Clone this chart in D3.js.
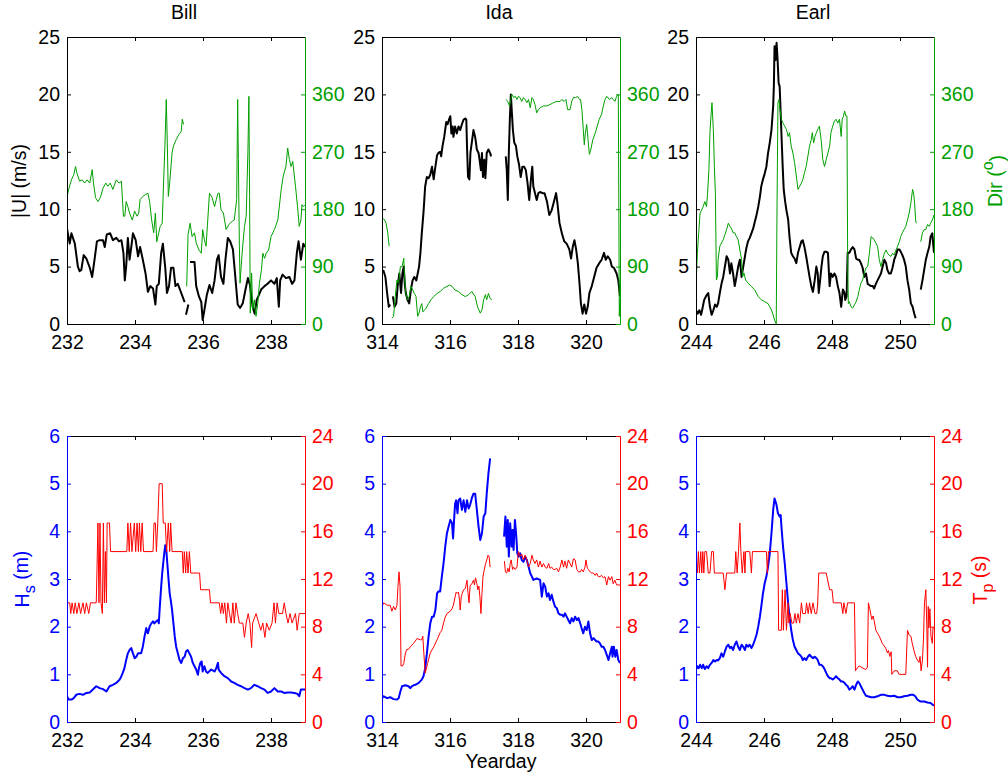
<!DOCTYPE html>
<html><head><meta charset="utf-8">
<script src="https://cdn.jsdelivr.net/npm/d3@7"></script>
<style>
body{margin:0;background:#fff}
svg{display:block}
text{font-family:"Liberation Sans",Arial,Helvetica,sans-serif}
</style>
</head><body>
<svg id="c" width="1008" height="779"></svg>
<script>
// ---------------- DATA ----------------
const stormNames = ["Bill", "Ida", "Earl"];
const dayRanges = [[232, 239], [314, 321], [244, 251]];
const dayTicks = [[232, 234, 236, 238], [314, 316, 318, 320], [244, 246, 248, 250]];
const speedTicks = [0, 5, 10, 15, 20, 25];
const dirTicks = [0, 90, 180, 270, 360];
const hsTicks = [0, 1, 2, 3, 4, 5, 6];
const tpTicks = [0, 4, 8, 12, 16, 20, 24];

// wind speed |U| (m/s) [yearday, value]; null = gap
const billU = [[232.00,8.3],[232.08,7.0],[232.13,7.9],[232.23,7.0],[232.32,5.0],[232.37,4.6],[232.42,4.7],[232.49,6.0],[232.57,5.7],[232.67,4.9],[232.74,4.1],[232.81,5.6],[232.88,7.2],[232.96,7.3],[233.06,7.3],[233.11,6.7],[233.17,7.8],[233.27,7.9],[233.35,7.3],[233.45,7.5],[233.53,7.2],[233.60,7.3],[233.66,6.2],[233.70,3.8],[233.74,5.0],[233.79,7.5],[233.84,5.6],[233.89,6.7],[233.94,7.9],[234.02,7.3],[234.09,5.9],[234.15,6.7],[234.23,5.6],[234.31,4.4],[234.38,2.8],[234.45,3.3],[234.53,3.1],[234.60,1.7],[234.64,3.3],[234.70,3.5],[234.77,6.2],[234.82,7.0],[234.89,4.9],[234.94,2.7],[235.00,3.3],[235.06,4.9],[235.13,4.9],[235.19,3.3],[235.26,3.5],[235.36,2.7],[235.46,1.9],[235.48,null],[235.50,0.8],[235.57,1.7],[235.59,null],[235.62,5.4],[235.75,5.4],[235.80,3.3],[235.88,2.4],[235.95,1.9],[235.99,0.35],[236.04,1.2],[236.11,2.5],[236.19,3.4],[236.27,2.7],[236.34,3.8],[236.41,5.6],[236.46,6.0],[236.53,4.1],[236.60,3.5],[236.66,5.6],[236.73,7.5],[236.80,7.2],[236.88,6.5],[236.95,4.1],[237.02,1.7],[237.09,1.4],[237.17,1.8],[237.25,3.0],[237.32,4.0],[237.38,3.4],[237.46,1.5],[237.52,0.9],[237.58,2.1],[237.64,2.5],[237.71,3.0],[237.81,3.3],[237.90,3.5],[238.00,3.8],[238.10,3.5],[238.17,4.0],[238.23,1.5],[238.27,3.8],[238.34,4.3],[238.44,4.0],[238.54,4.1],[238.62,3.5],[238.69,3.8],[238.76,6.2],[238.81,7.2],[238.88,5.6],[238.95,7.0],[239.00,6.7]];
const idaU = [[314.00,4.7],[314.05,4.6],[314.10,4.1],[314.15,2.7],[314.20,1.5],[314.24,1.7],[314.28,null],[314.32,2.4],[314.37,1.5],[314.42,1.8],[314.46,3.3],[314.51,4.4],[314.56,2.7],[314.60,4.4],[314.64,5.0],[314.67,3.5],[314.70,2.7],[314.75,2.1],[314.80,1.8],[314.85,3.0],[314.90,3.8],[314.95,4.1],[315.01,3.8],[315.05,4.4],[315.09,5.0],[315.13,6.2],[315.17,7.9],[315.22,9.7],[315.27,12.0],[315.32,12.8],[315.37,12.7],[315.42,13.0],[315.47,13.7],[315.52,12.6],[315.57,13.7],[315.62,14.7],[315.66,14.9],[315.71,15.0],[315.74,14.6],[315.78,15.5],[315.83,16.3],[315.89,17.6],[315.93,17.4],[315.97,17.8],[316.01,18.1],[316.04,16.6],[316.08,17.2],[316.10,16.3],[316.15,17.2],[316.20,16.6],[316.25,17.2],[316.30,16.9],[316.35,17.4],[316.40,17.8],[316.45,17.9],[316.48,17.8],[316.50,15.5],[316.53,12.8],[316.57,12.6],[316.60,14.9],[316.65,16.0],[316.69,16.9],[316.74,16.3],[316.79,15.2],[316.84,14.9],[316.87,14.3],[316.91,13.4],[316.94,14.9],[316.97,12.8],[317.01,14.3],[317.04,12.7],[317.06,13.7],[317.08,14.9],[317.13,15.2],[317.18,14.9],[317.21,14.6],[317.40,null],[317.64,14.6],[317.67,13.4],[317.70,10.8],[317.73,14.9],[317.76,17.8],[317.79,20.0],[317.82,18.4],[317.85,16.9],[317.89,15.8],[317.94,15.5],[317.98,14.6],[318.03,13.9],[318.08,12.8],[318.13,13.7],[318.18,13.7],[318.23,13.4],[318.28,12.3],[318.33,10.8],[318.38,12.6],[318.42,13.7],[318.45,12.0],[318.50,11.4],[318.55,10.8],[318.60,11.4],[318.65,11.5],[318.72,11.4],[318.78,11.4],[318.85,10.7],[318.92,9.5],[318.99,9.9],[319.06,10.7],[319.12,11.4],[319.16,10.5],[319.22,8.8],[319.29,7.9],[319.36,7.2],[319.43,7.0],[319.51,6.5],[319.56,5.7],[319.61,6.7],[319.66,7.3],[319.71,6.5],[319.76,5.3],[319.81,3.5],[319.85,1.8],[319.90,0.9],[319.95,1.7],[320.00,0.9],[320.05,1.5],[320.10,2.7],[320.17,3.3],[320.24,4.1],[320.31,4.9],[320.39,5.3],[320.46,5.6],[320.53,6.2],[320.58,5.6],[320.64,5.9],[320.71,5.6],[320.76,5.0],[320.82,4.9],[320.90,4.4],[320.95,3.8],[321.00,2.4]];
const earlU = [[244.00,1.2],[244.05,0.9],[244.10,1.2],[244.15,0.8],[244.20,1.5],[244.24,2.1],[244.31,2.5],[244.36,2.7],[244.41,1.5],[244.46,0.8],[244.51,1.2],[244.56,1.7],[244.61,1.5],[244.65,1.8],[244.70,2.7],[244.75,3.5],[244.80,4.1],[244.85,5.0],[244.90,5.9],[244.95,5.6],[245.00,4.4],[245.04,5.3],[245.09,4.4],[245.14,3.3],[245.19,4.1],[245.24,5.0],[245.29,5.6],[245.34,4.1],[245.39,5.0],[245.44,5.9],[245.48,6.6],[245.53,7.2],[245.58,7.5],[245.63,7.9],[245.68,8.3],[245.73,8.9],[245.78,9.5],[245.83,10.2],[245.88,11.1],[245.92,12.0],[245.97,12.6],[246.02,13.1],[246.07,13.7],[246.12,14.9],[246.17,15.8],[246.22,16.9],[246.27,19.0],[246.29,20.7],[246.31,24.2],[246.34,23.0],[246.37,24.5],[246.40,23.0],[246.43,21.0],[246.46,20.7],[246.49,18.4],[246.52,16.0],[246.55,13.7],[246.58,11.7],[246.62,10.7],[246.66,9.9],[246.71,9.1],[246.75,7.6],[246.80,6.2],[246.85,5.9],[246.90,5.7],[246.95,5.3],[247.00,6.2],[247.05,6.7],[247.10,7.2],[247.14,7.3],[247.19,6.7],[247.24,5.9],[247.29,5.0],[247.34,4.1],[247.39,3.3],[247.44,2.8],[247.49,3.8],[247.54,5.0],[247.58,4.4],[247.61,2.7],[247.65,3.8],[247.69,5.0],[247.73,5.9],[247.78,6.3],[247.83,6.3],[247.88,6.2],[247.93,3.3],[247.97,4.4],[248.02,4.1],[248.07,4.4],[248.12,4.1],[248.17,3.3],[248.22,2.7],[248.27,1.5],[248.32,3.0],[248.37,2.7],[248.39,2.1],[248.43,2.4],[248.46,6.2],[248.51,6.2],[248.56,6.5],[248.61,6.7],[248.66,6.5],[248.71,5.7],[248.76,5.6],[248.80,5.6],[248.85,5.3],[248.90,4.9],[248.95,4.1],[249.00,4.4],[249.05,3.5],[249.10,3.4],[249.15,3.3],[249.20,3.3],[249.24,3.1],[249.29,3.5],[249.34,3.8],[249.39,4.1],[249.44,4.4],[249.49,5.0],[249.54,5.6],[249.59,5.3],[249.63,4.7],[249.68,4.4],[249.73,4.4],[249.78,4.9],[249.83,5.6],[249.88,6.0],[249.93,6.5],[249.98,6.5],[250.02,6.3],[250.07,6.0],[250.12,5.6],[250.17,5.0],[250.22,3.8],[250.27,3.0],[250.32,1.8],[250.37,1.5],[250.42,0.9],[250.46,0.5],[250.53,null],[250.61,3.0],[250.66,3.8],[250.71,4.7],[250.76,5.6],[250.81,6.2],[250.86,6.7],[250.90,7.6],[250.95,7.9],[251.00,6.2]];

// wind direction (deg)
const billDir = [[232.00,200],[232.06,213],[232.13,226],[232.20,234],[232.25,247],[232.29,237],[232.37,224],[232.45,226],[232.52,221],[232.59,226],[232.67,221],[232.74,242],[232.78,221],[232.84,198],[232.91,192],[232.98,198],[233.06,213],[233.14,221],[233.20,216],[233.27,221],[233.35,211],[233.45,226],[233.53,221],[233.60,224],[233.66,169],[233.70,169],[233.74,192],[233.79,184],[233.84,174],[233.92,163],[233.99,177],[234.06,169],[234.11,174],[234.15,195],[234.23,200],[234.31,203],[234.38,205],[234.43,192],[234.49,163],[234.55,143],[234.60,174],[234.64,129],[234.70,143],[234.74,153],[234.80,158],[234.84,221],[234.88,279],[234.92,352],[234.95,284],[234.98,200],[235.02,221],[235.09,268],[235.13,279],[235.21,289],[235.29,297],[235.36,302],[235.39,321],[235.43,313],[235.47,null],[235.52,59],[235.56,140],[235.62,158],[235.68,137],[235.75,143],[235.80,127],[235.88,116],[235.95,111],[235.99,148],[236.04,132],[236.09,122],[236.14,163],[236.19,205],[236.27,198],[236.34,184],[236.39,195],[236.44,205],[236.48,205],[236.53,179],[236.60,174],[236.68,148],[236.76,156],[236.86,161],[236.92,163],[236.99,195],[237.02,352],[237.04,258],[237.07,122],[237.09,64],[237.15,111],[237.22,153],[237.27,169],[237.32,268],[237.35,357],[237.37,200],[237.39,17],[237.43,80],[237.46,22],[237.51,38],[237.56,12],[237.61,32],[237.66,64],[237.72,85],[237.76,111],[237.81,103],[237.86,111],[237.93,116],[238.00,137],[238.10,148],[238.20,163],[238.30,211],[238.36,232],[238.44,247],[238.49,276],[238.54,258],[238.59,247],[238.64,255],[238.72,216],[238.78,184],[238.83,153],[238.88,163],[238.91,187],[238.95,184],[239.00,187]];
const idaDir = [[314.00,166],[314.07,164],[314.12,158],[314.17,143],[314.21,122],[314.25,null],[314.29,9],[314.34,12],[314.39,43],[314.44,69],[314.49,64],[314.54,90],[314.59,90],[314.64,103],[314.67,69],[314.70,48],[314.75,38],[314.80,43],[314.85,59],[314.91,53],[314.95,48],[315.00,43],[315.05,12],[315.09,17],[315.13,27],[315.17,32],[315.20,19],[315.25,22],[315.30,25],[315.37,32],[315.44,38],[315.52,43],[315.62,48],[315.71,51],[315.81,56],[315.91,59],[315.99,61],[316.06,59],[316.15,53],[316.25,51],[316.35,46],[316.45,43],[316.55,46],[316.64,51],[316.74,43],[316.81,27],[316.89,17],[316.94,22],[316.99,38],[317.04,46],[317.08,38],[317.13,48],[317.18,40],[317.23,38],[317.40,null],[317.64,352],[317.70,349],[317.75,342],[317.79,352],[317.82,360],[317.87,355],[317.92,357],[317.97,352],[318.01,357],[318.06,355],[318.11,349],[318.16,355],[318.21,352],[318.26,347],[318.31,352],[318.36,339],[318.41,355],[318.45,352],[318.50,344],[318.55,331],[318.60,336],[318.65,339],[318.75,342],[318.85,342],[318.94,344],[319.04,347],[319.14,349],[319.24,349],[319.29,352],[319.36,349],[319.41,352],[319.46,336],[319.53,336],[319.58,349],[319.63,355],[319.70,355],[319.75,357],[319.81,352],[319.84,352],[319.88,336],[319.92,305],[319.95,281],[319.98,299],[320.02,313],[320.06,289],[320.10,266],[320.14,273],[320.20,289],[320.27,299],[320.33,310],[320.39,321],[320.46,329],[320.51,342],[320.56,352],[320.61,357],[320.69,352],[320.76,355],[320.80,352],[320.85,349],[320.90,357],[320.95,360],[320.98,12],[321.00,40]];
const earlDir = [[244.00,59],[244.04,111],[244.08,143],[244.12,174],[244.17,179],[244.21,184],[244.26,192],[244.31,184],[244.34,205],[244.38,242],[244.41,300],[244.44,326],[244.47,347],[244.51,305],[244.54,247],[244.57,205],[244.60,69],[244.63,74],[244.65,101],[244.70,122],[244.75,127],[244.80,132],[244.85,140],[244.90,148],[244.95,158],[245.00,153],[245.04,150],[245.09,143],[245.14,143],[245.19,137],[245.24,132],[245.29,116],[245.34,101],[245.37,74],[245.41,80],[245.46,69],[245.53,64],[245.63,59],[245.73,53],[245.83,43],[245.92,38],[246.02,35],[246.12,32],[246.17,27],[246.22,22],[246.27,14],[246.31,6],[246.36,0],[246.38,163],[246.41,347],[246.44,352],[246.47,336],[246.51,321],[246.56,315],[246.61,310],[246.66,305],[246.71,294],[246.75,300],[246.80,279],[246.85,268],[246.90,253],[246.95,232],[247.00,211],[247.05,216],[247.10,221],[247.14,226],[247.19,237],[247.24,247],[247.29,263],[247.34,279],[247.39,289],[247.42,300],[247.46,284],[247.50,294],[247.54,300],[247.58,305],[247.63,310],[247.68,289],[247.73,258],[247.78,247],[247.83,258],[247.88,268],[247.93,279],[247.97,300],[248.02,310],[248.07,318],[248.12,321],[248.17,315],[248.22,321],[248.27,294],[248.30,321],[248.34,326],[248.37,334],[248.41,326],[248.44,326],[248.46,111],[248.48,32],[248.51,35],[248.56,27],[248.61,25],[248.66,30],[248.71,35],[248.76,43],[248.80,53],[248.85,64],[248.90,69],[248.95,80],[249.00,88],[249.05,90],[249.10,111],[249.15,137],[249.20,135],[249.24,132],[249.29,127],[249.34,122],[249.39,101],[249.44,90],[249.49,101],[249.54,111],[249.59,116],[249.63,111],[249.68,108],[249.73,106],[249.78,111],[249.83,108],[249.88,116],[249.93,122],[249.98,129],[250.02,137],[250.07,143],[250.12,148],[250.17,153],[250.22,163],[250.27,174],[250.32,190],[250.37,211],[250.40,205],[250.43,190],[250.46,163],[250.48,158],[250.55,null],[250.61,129],[250.66,143],[250.71,148],[250.76,148],[250.81,156],[250.86,153],[250.90,158],[250.95,163],[251.00,171]];

// significant wave height Hs (m)
const billHs = [[232.00,0.54],[232.05,0.47],[232.13,0.47],[232.20,0.50],[232.27,0.57],[232.37,0.59],[232.47,0.57],[232.57,0.61],[232.67,0.62],[232.76,0.68],[232.86,0.75],[232.96,0.71],[233.06,0.69],[233.16,0.64],[233.25,0.75],[233.35,0.78],[233.45,0.82],[233.55,0.89],[233.60,0.96],[233.64,1.03],[233.69,1.13],[233.74,1.30],[233.79,1.44],[233.84,1.51],[233.89,1.55],[233.94,1.44],[233.99,1.34],[234.04,1.37],[234.09,1.44],[234.18,1.44],[234.23,1.58],[234.28,1.79],[234.33,1.97],[234.38,1.86],[234.43,2.00],[234.48,2.07],[234.53,2.11],[234.57,2.07],[234.62,2.11],[234.67,2.14],[234.70,2.07],[234.73,2.42],[234.77,2.84],[234.80,3.12],[234.83,3.33],[234.86,3.54],[234.89,3.71],[234.92,3.61],[234.95,3.33],[234.98,3.05],[235.02,2.70],[235.05,2.56],[235.09,2.35],[235.13,2.07],[235.17,1.79],[235.21,1.58],[235.26,1.44],[235.31,1.30],[235.36,1.24],[235.41,1.34],[235.46,1.37],[235.50,1.48],[235.55,1.51],[235.60,1.44],[235.65,1.37],[235.70,1.24],[235.75,1.17],[235.80,1.10],[235.85,0.99],[235.88,1.13],[235.92,1.24],[235.96,1.27],[235.99,1.06],[236.04,1.17],[236.09,1.06],[236.14,1.03],[236.24,1.10],[236.34,1.06],[236.39,1.13],[236.44,1.24],[236.46,1.10],[236.53,1.03],[236.63,0.96],[236.73,0.92],[236.83,0.85],[236.92,0.82],[237.02,0.78],[237.12,0.75],[237.22,0.71],[237.32,0.68],[237.41,0.71],[237.51,0.78],[237.61,0.75],[237.71,0.71],[237.81,0.68],[237.90,0.61],[238.00,0.64],[238.10,0.71],[238.20,0.64],[238.30,0.64],[238.39,0.61],[238.49,0.62],[238.59,0.62],[238.69,0.61],[238.78,0.59],[238.83,0.54],[238.88,0.68],[239.00,0.68]];
const idaHs = [[314.00,0.50],[314.05,0.54],[314.15,0.50],[314.24,0.52],[314.34,0.48],[314.44,0.47],[314.49,0.50],[314.54,0.64],[314.59,0.75],[314.69,0.77],[314.78,0.75],[314.83,0.71],[314.88,0.75],[314.93,0.77],[314.98,0.78],[315.08,0.82],[315.17,0.89],[315.22,0.96],[315.27,1.13],[315.32,1.44],[315.37,1.79],[315.42,2.07],[315.47,2.21],[315.52,2.21],[315.57,2.35],[315.62,2.70],[315.66,2.74],[315.71,2.74],[315.76,3.05],[315.81,3.33],[315.86,3.68],[315.91,3.96],[315.96,4.10],[316.01,4.24],[316.06,4.17],[316.09,3.85],[316.12,4.24],[316.15,4.58],[316.18,4.65],[316.22,4.38],[316.25,4.65],[316.30,4.69],[316.35,4.45],[316.40,4.65],[316.45,4.41],[316.50,4.65],[316.55,4.48],[316.59,4.55],[316.64,4.69],[316.69,4.79],[316.74,4.79],[316.79,4.45],[316.84,4.10],[316.89,3.82],[316.94,3.96],[316.99,4.31],[317.04,4.38],[317.08,4.79],[317.13,5.21],[317.18,5.53],[317.40,null],[317.59,3.89],[317.63,4.31],[317.67,3.68],[317.70,4.24],[317.73,3.47],[317.77,4.17],[317.81,3.68],[317.84,4.03],[317.87,3.61],[317.91,4.24],[317.95,3.89],[317.98,3.54],[318.02,3.47],[318.06,3.54],[318.11,3.40],[318.16,3.36],[318.21,3.47],[318.26,3.40],[318.31,3.26],[318.36,3.12],[318.41,3.05],[318.45,2.98],[318.55,3.01],[318.65,2.98],[318.70,2.63],[318.75,2.91],[318.80,2.84],[318.85,2.63],[318.90,2.70],[318.94,2.56],[318.99,2.67],[319.04,2.53],[319.09,2.42],[319.14,2.39],[319.19,2.28],[319.24,2.25],[319.29,2.25],[319.34,2.21],[319.38,2.28],[319.43,2.21],[319.48,2.14],[319.53,2.07],[319.58,2.18],[319.63,2.11],[319.68,2.21],[319.73,2.14],[319.78,2.18],[319.83,2.07],[319.87,1.97],[319.92,1.86],[319.97,2.00],[320.02,1.93],[320.07,2.11],[320.12,1.86],[320.17,1.72],[320.22,1.76],[320.27,1.72],[320.31,1.69],[320.36,1.69],[320.41,1.65],[320.46,1.58],[320.51,1.58],[320.56,1.51],[320.61,1.41],[320.66,1.30],[320.71,1.44],[320.76,1.58],[320.78,1.37],[320.82,1.58],[320.86,1.37],[320.90,1.51],[320.95,1.30],[321.00,1.24]];
const earlHs = [[244.00,1.10],[244.04,1.17],[244.08,1.13],[244.12,1.20],[244.17,1.13],[244.21,1.20],[244.26,1.11],[244.31,1.17],[244.36,1.13],[244.41,1.20],[244.46,1.24],[244.51,1.30],[244.56,1.27],[244.61,1.30],[244.65,1.29],[244.70,1.34],[244.75,1.44],[244.80,1.37],[244.85,1.48],[244.90,1.58],[244.95,1.62],[245.00,1.55],[245.04,1.58],[245.09,1.51],[245.14,1.62],[245.19,1.69],[245.24,1.58],[245.29,1.51],[245.34,1.62],[245.39,1.58],[245.44,1.51],[245.48,1.62],[245.53,1.58],[245.58,1.62],[245.63,1.55],[245.68,1.62],[245.73,1.72],[245.78,1.83],[245.83,2.00],[245.88,2.21],[245.92,2.42],[245.97,2.70],[246.02,2.91],[246.07,3.05],[246.12,3.26],[246.17,3.54],[246.22,3.96],[246.27,4.45],[246.31,4.69],[246.36,4.58],[246.41,4.38],[246.46,4.31],[246.49,4.34],[246.52,4.03],[246.56,3.68],[246.61,3.33],[246.66,2.91],[246.71,2.49],[246.75,2.21],[246.80,1.93],[246.85,1.72],[246.90,1.58],[246.95,1.51],[247.00,1.44],[247.05,1.41],[247.10,1.37],[247.14,1.30],[247.19,1.34],[247.24,1.30],[247.29,1.37],[247.34,1.41],[247.39,1.37],[247.44,1.34],[247.49,1.37],[247.54,1.34],[247.58,1.30],[247.63,1.20],[247.68,1.20],[247.73,1.17],[247.78,1.11],[247.83,1.03],[247.88,0.96],[247.93,0.92],[247.97,0.92],[248.02,0.89],[248.07,0.92],[248.12,0.96],[248.17,0.92],[248.22,0.89],[248.27,0.85],[248.32,0.85],[248.37,0.82],[248.41,0.78],[248.46,0.75],[248.51,0.68],[248.56,0.71],[248.61,0.75],[248.66,0.68],[248.71,0.78],[248.76,0.85],[248.80,0.82],[248.85,0.75],[248.90,0.68],[248.95,0.61],[249.00,0.55],[249.05,0.54],[249.15,0.52],[249.24,0.52],[249.34,0.54],[249.44,0.57],[249.54,0.57],[249.63,0.55],[249.73,0.54],[249.83,0.55],[249.93,0.52],[250.02,0.52],[250.12,0.54],[250.22,0.55],[250.32,0.57],[250.39,0.57],[250.45,0.54],[250.51,0.47],[250.61,0.43],[250.71,0.43],[250.81,0.41],[250.90,0.40],[251.00,0.34]];

// peak wave period Tp (s)
const billTp = [[232.00,10.0],[232.08,10.0],[232.11,9.1],[232.15,10.0],[232.20,9.1],[232.24,10.0],[232.29,9.1],[232.35,10.0],[232.40,9.1],[232.47,10.0],[232.52,9.1],[232.57,10.0],[232.64,9.1],[232.69,10.0],[232.86,10.0],[232.88,12.5],[232.91,16.7],[232.94,10.0],[232.97,16.7],[233.00,10.0],[233.04,9.1],[233.07,16.7],[233.10,10.0],[233.13,14.3],[233.16,10.0],[233.18,16.7],[233.25,16.7],[233.28,14.3],[233.76,14.3],[233.79,16.7],[233.83,14.3],[233.87,16.7],[233.91,14.3],[233.98,16.7],[234.02,14.3],[234.06,16.7],[234.10,14.3],[234.13,16.7],[234.17,14.3],[234.21,16.7],[234.25,14.3],[234.53,14.3],[234.56,16.7],[234.60,16.7],[234.63,14.3],[234.67,16.7],[234.71,20.0],[234.80,20.0],[234.83,16.7],[234.89,16.7],[234.93,14.3],[234.98,16.7],[235.02,14.3],[235.05,16.7],[235.09,14.3],[235.39,14.3],[235.42,12.5],[235.45,14.3],[235.49,12.5],[235.52,14.3],[235.56,12.5],[235.60,14.3],[235.64,12.5],[235.90,12.5],[235.93,11.1],[236.19,11.1],[236.22,10.0],[236.48,10.0],[236.52,9.1],[236.56,10.0],[236.60,9.1],[236.64,10.0],[236.69,8.3],[236.73,10.0],[236.78,9.1],[236.83,8.3],[236.88,10.0],[236.92,8.3],[236.97,10.0],[237.02,9.1],[237.07,8.3],[237.17,8.3],[237.22,7.1],[237.27,8.3],[237.33,9.1],[237.38,8.3],[237.43,6.25],[237.46,8.3],[237.56,9.1],[237.64,8.3],[237.70,7.7],[237.76,8.3],[237.82,7.1],[237.87,8.3],[237.95,7.7],[238.03,8.3],[238.09,10.0],[238.13,8.3],[238.18,10.0],[238.23,9.1],[238.34,9.1],[238.39,10.0],[238.44,9.1],[238.50,8.3],[238.56,9.1],[238.62,8.3],[238.72,9.1],[238.77,7.7],[238.83,9.1],[239.00,9.1]];
const idaTp = [[314.00,9.7],[314.05,10.0],[314.15,9.8],[314.24,9.8],[314.29,9.3],[314.34,9.7],[314.39,9.4],[314.44,9.8],[314.47,11.4],[314.50,12.6],[314.53,11.4],[314.56,4.7],[314.60,4.7],[314.64,4.9],[314.69,5.8],[314.73,6.1],[314.78,6.1],[314.83,6.3],[314.93,6.6],[315.03,7.0],[315.13,6.9],[315.17,6.9],[315.20,7.2],[315.23,5.8],[315.27,4.1],[315.30,4.4],[315.34,4.9],[315.42,5.8],[315.52,6.3],[315.62,6.9],[315.71,7.5],[315.76,7.7],[315.81,8.3],[315.86,8.8],[315.91,9.1],[316.01,9.3],[316.06,9.5],[316.10,9.8],[316.15,10.5],[316.18,10.9],[316.22,10.8],[316.25,10.9],[316.28,10.2],[316.30,9.4],[316.33,10.5],[316.36,10.8],[316.40,11.1],[316.45,11.2],[316.50,11.9],[316.53,10.8],[316.56,10.0],[316.59,11.4],[316.64,11.6],[316.69,11.9],[316.72,11.5],[316.75,12.1],[316.79,11.6],[316.82,11.1],[316.85,11.4],[316.88,10.5],[316.91,9.1],[316.94,10.8],[316.97,12.2],[317.01,12.8],[317.04,13.2],[317.08,13.6],[317.12,14.0],[317.15,13.9],[317.18,13.0],[317.40,null],[317.60,13.5],[317.63,12.6],[317.67,12.5],[317.70,12.9],[317.74,12.6],[317.77,13.3],[317.80,13.6],[317.84,12.8],[317.87,13.0],[317.92,12.8],[317.97,13.0],[318.01,14.3],[318.06,13.9],[318.11,14.1],[318.16,13.6],[318.21,14.0],[318.26,13.6],[318.31,13.0],[318.36,13.3],[318.41,14.0],[318.45,13.6],[318.50,13.3],[318.55,13.6],[318.60,13.0],[318.65,13.5],[318.70,13.0],[318.75,13.3],[318.80,13.0],[318.85,12.9],[318.90,13.3],[318.94,12.9],[318.99,13.0],[319.04,12.8],[319.09,12.8],[319.14,12.9],[319.19,12.6],[319.24,13.0],[319.29,13.6],[319.34,13.0],[319.38,13.5],[319.43,12.9],[319.48,13.6],[319.53,13.3],[319.58,13.0],[319.63,13.7],[319.68,13.6],[319.73,12.8],[319.78,12.6],[319.83,12.6],[319.87,12.8],[319.92,12.6],[319.97,13.0],[320.00,13.6],[320.04,12.9],[320.07,12.8],[320.12,12.6],[320.17,12.5],[320.22,12.5],[320.27,12.3],[320.31,12.5],[320.36,12.2],[320.41,12.2],[320.46,12.3],[320.51,12.1],[320.56,12.2],[320.61,11.5],[320.66,12.2],[320.71,11.9],[320.76,12.2],[320.80,11.6],[320.85,11.9],[320.90,11.5],[321.00,11.5]];
const earlTp = [[244.00,14.3],[244.04,12.5],[244.07,14.3],[244.10,12.5],[244.14,14.3],[244.17,12.5],[244.20,14.3],[244.23,12.5],[244.26,14.3],[244.31,14.3],[244.36,12.5],[244.41,12.5],[244.46,14.3],[244.51,14.3],[244.54,12.5],[244.80,12.5],[244.85,11.1],[244.90,12.5],[245.14,12.5],[245.17,14.3],[245.21,12.5],[245.25,14.3],[245.29,16.7],[245.32,14.3],[245.36,12.5],[245.41,14.3],[245.44,12.5],[245.46,14.3],[245.58,14.3],[245.63,12.5],[245.66,14.3],[246.07,14.3],[246.10,12.5],[246.13,14.3],[246.41,14.3],[246.43,7.7],[246.51,7.7],[246.54,11.1],[246.57,7.7],[246.62,11.1],[246.66,7.7],[246.71,10.0],[246.73,8.3],[246.77,9.1],[246.82,8.3],[246.87,8.3],[246.91,9.1],[246.95,8.3],[247.00,9.1],[247.05,8.3],[247.10,10.0],[247.14,9.1],[247.22,9.1],[247.25,10.0],[247.30,9.1],[247.34,10.0],[247.39,9.1],[247.44,10.0],[247.50,9.1],[247.55,9.1],[247.58,10.0],[247.61,12.5],[247.83,12.5],[247.93,11.1],[248.00,11.1],[248.04,10.0],[248.27,10.0],[248.32,9.1],[248.35,10.0],[248.41,9.1],[248.46,10.0],[248.66,10.0],[248.69,4.3],[248.76,4.6],[248.80,4.7],[248.99,4.4],[249.04,4.6],[249.07,10.0],[249.11,9.5],[249.17,8.6],[249.21,8.9],[249.24,8.5],[249.29,7.7],[249.39,7.2],[249.48,6.6],[249.58,6.2],[249.63,5.8],[249.66,6.0],[249.70,5.5],[249.74,5.9],[249.76,4.0],[249.83,4.3],[249.92,4.3],[249.97,4.0],[250.17,4.0],[250.22,7.7],[250.27,7.3],[250.32,7.2],[250.36,6.6],[250.41,6.0],[250.46,5.5],[250.51,5.2],[250.56,5.0],[250.59,5.5],[250.62,4.3],[250.66,5.2],[250.69,6.9],[250.72,10.0],[250.76,11.1],[250.79,7.9],[250.81,4.6],[250.83,9.7],[250.85,7.9],[250.88,9.5],[250.91,7.2],[250.95,6.6],[250.97,7.9],[251.00,7.9]];

const speedSeries = [billU, idaU, earlU];
const dirSeries = [billDir, idaDir, earlDir];
const hsSeries = [billHs, idaHs, earlHs];
const tpSeries = [billTp, idaTp, earlTp];

// ---------------- DRAWING ----------------
const svg = d3.select("#c");
const FS = 19.5;
const GREEN = "#00a000", BLUE = "#0000ff", RED = "#ff0000", BLACK = "#000000";
const lefts = [67, 382, 696], W = 238;
const rows = [{y0: 37, y1: 324}, {y0: 436, y1: 722}];
const intFmt = d3.format("d");

function panel(i, row, leftSeries, rightSeries, lDom, rDom, lTicks, rTicks, lColor, rColor, lWidth) {
  const x0 = lefts[i], x1 = x0 + W, y0 = rows[row].y0, y1 = rows[row].y1;
  const x = d3.scaleLinear().domain(dayRanges[i]).range([x0, x1]);
  const yl = d3.scaleLinear().domain(lDom).range([y1, y0]);
  const yr = d3.scaleLinear().domain(rDom).range([y1, y0]);
  const cid = "clip" + i + "_" + row;
  svg.append("clipPath").attr("id", cid).append("rect")
     .attr("x", x0).attr("y", y0 - 1).attr("width", W).attr("height", y1 - y0 + 2);
  const g = svg.append("g");
  const pl = g.append("g").attr("clip-path", `url(#${cid})`);
  const ll = d3.line().defined(d => d[1] != null).x(d => x(d[0])).y(d => yl(d[1]));
  const lr = d3.line().defined(d => d[1] != null).x(d => x(d[0])).y(d => yr(d[1]));
  pl.append("path").datum(leftSeries).attr("d", ll).attr("fill", "none")
    .attr("stroke", lColor).attr("stroke-width", lWidth).attr("stroke-linejoin", "round");
  pl.append("path").datum(rightSeries).attr("d", lr).attr("fill", "none")
    .attr("stroke", rColor).attr("stroke-width", 1).attr("stroke-linejoin", "round");

  // bottom axis
  const ax = g.append("g").attr("transform", `translate(0,${y1})`)
    .call(d3.axisBottom(x).tickValues(dayTicks[i]).tickSizeInner(-4).tickSizeOuter(0).tickPadding(11).tickFormat(intFmt));
  ax.select(".domain").attr("stroke", BLACK);
  ax.selectAll(".tick line").attr("stroke", BLACK);
  ax.selectAll("text").attr("fill", BLACK);
  // top axis (box)
  const at = g.append("g").attr("transform", `translate(0,${y0})`)
    .call(d3.axisTop(x).tickValues(dayTicks[i]).tickSizeInner(-4).tickSizeOuter(0).tickFormat(""));
  at.select(".domain").attr("stroke", BLACK);
  at.selectAll(".tick line").attr("stroke", BLACK);
  // left axis
  const aL = g.append("g").attr("transform", `translate(${x0},0)`)
    .call(d3.axisLeft(yl).tickValues(lTicks).tickSizeInner(-4).tickSizeOuter(0).tickPadding(7).tickFormat(intFmt));
  aL.select(".domain").attr("stroke", lColor);
  aL.selectAll(".tick line").attr("stroke", lColor);
  aL.selectAll("text").attr("fill", lColor);
  // right axis
  const aR = g.append("g").attr("transform", `translate(${x1},0)`)
    .call(d3.axisRight(yr).tickValues(rTicks).tickSizeInner(-4).tickSizeOuter(0).tickPadding(7).tickFormat(intFmt));
  aR.select(".domain").attr("stroke", rColor);
  aR.selectAll(".tick line").attr("stroke", rColor);
  aR.selectAll("text").attr("fill", rColor);
  g.selectAll("g").attr("font-family", null).attr("font-size", null);
  g.selectAll(".tick text").style("font-size", FS + "px");
}

for (let i = 0; i < 3; i++) {
  panel(i, 0, speedSeries[i], dirSeries[i], [0, 25], [0, 450], speedTicks, dirTicks, BLACK, GREEN, 2);
  panel(i, 1, hsSeries[i], tpSeries[i], [0, 6], [0, 24], hsTicks, tpTicks, BLUE, RED, 2);
  svg.append("text").attr("x", lefts[i] + W / 2 - 2).attr("y", 19).attr("text-anchor", "middle")
    .style("font-size", FS + "px").text(stormNames[i]);
}

// axis labels
const sub = FS * 0.82;
svg.append("text").attr("transform", "translate(26,181) rotate(-90)").attr("text-anchor", "middle")
  .style("font-size", FS + "px").attr("fill", BLACK).text("|U| (m/s)");

const hs = svg.append("text").attr("transform", "translate(29,579) rotate(-90)").attr("text-anchor", "middle")
  .style("font-size", FS + "px").attr("fill", BLUE);
hs.append("tspan").text("H");
hs.append("tspan").attr("dy", "0.35em").style("font-size", sub + "px").text("s");
hs.append("tspan").attr("dy", "-0.35em").text(" (m)");

const dir = svg.append("text").attr("transform", "translate(1002,181) rotate(-90)").attr("text-anchor", "middle")
  .style("font-size", FS + "px").attr("fill", GREEN);
dir.append("tspan").text("Dir (");
dir.append("tspan").attr("dy", "-0.55em").style("font-size", sub + "px").text("o");
dir.append("tspan").attr("dy", "0.55em").text(")");

const tp = svg.append("text").attr("transform", "translate(987,580) rotate(-90)").attr("text-anchor", "middle")
  .style("font-size", FS + "px").attr("fill", RED);
tp.append("tspan").text("T");
tp.append("tspan").attr("dy", "0.35em").style("font-size", sub + "px").text("p");
tp.append("tspan").attr("dy", "-0.35em").text(" (s)");

svg.append("text").attr("x", 501).attr("y", 768).attr("text-anchor", "middle")
  .style("font-size", FS + "px").attr("fill", BLACK).text("Yearday");
</script>
</body></html>
